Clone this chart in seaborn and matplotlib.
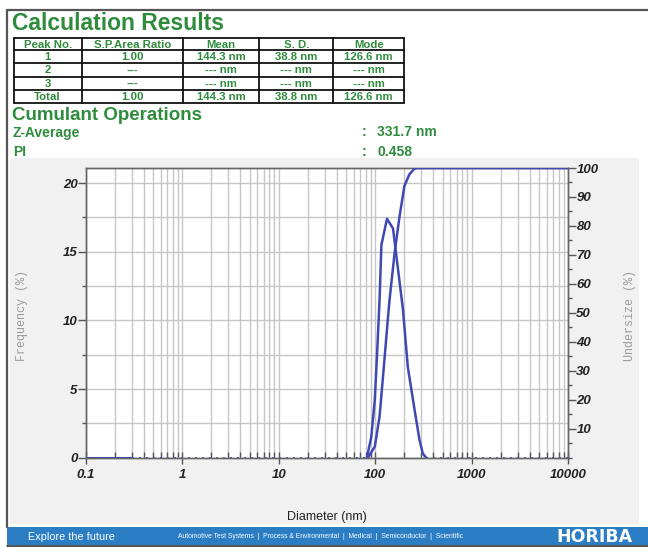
import matplotlib
matplotlib.use("Agg")
import matplotlib.pyplot as plt
import seaborn as sns
import numpy as np
import pandas as pd
from matplotlib.lines import Line2D
from matplotlib.patches import Rectangle
from matplotlib.ticker import LogLocator, NullFormatter, FixedLocator, FixedFormatter, MultipleLocator

# ---------------- data ----------------
freq_diam = [82, 91, 99, 105, 111, 116, 132.5, 153, 194, 218, 256, 288, 312, 338]
freq_pct = [0, 1.5, 4.2, 7.8, 11.5, 15.5, 17.4, 16.7, 10.8, 6.6, 3.5, 1.3, 0.3, 0]

cum_diam = [84, 99, 111, 123, 136, 141, 159, 179, 201, 226, 256, 275, 10000]
cum_pct = [0, 3.8, 14.2, 31.5, 48.8, 54.6, 70.7, 83.4, 93.8, 97.8, 99.8, 100, 100]

base_solid_diam = [0.1, 0.3]
base_dot_left_diam = [0.3, 82]
base_dot_right_diam = [338, 10000]
base_zero = [0, 0]

x_ticks = [0.1, 1, 10, 100, 1000, 10000]
x_tick_labels = ["0.1", "1", "10", "100", "1000", "10000"]
left_ticks = [0, 5, 10, 15, 20]
right_ticks = [10, 20, 30, 40, 50, 60, 70, 80, 90, 100]

table_header = ["Peak No.", "S.P.Area Ratio", "Mean", "S. D.", "Mode"]
table_rows = [
    ["1", "1.00", "144.3 nm", "38.8 nm", "126.6 nm"],
    ["2", "---", "--- nm", "--- nm", "--- nm"],
    ["3", "---", "--- nm", "--- nm", "--- nm"],
    ["Total", "1.00", "144.3 nm", "38.8 nm", "126.6 nm"],
]
cumulant_names = ["Z-Average", "PI"]
cumulant_values = ["331.7 nm", "0.458"]

# ---------------- style ----------------
sns.set_theme(style="white")
plt.rcParams["font.family"] = ["Liberation Sans", "DejaVu Sans"]

W, H = 648, 548
fig = plt.figure(figsize=(W / 100, H / 100), dpi=100, facecolor="white")

def fx(x):
    return x / W

def fy(y):
    return 1 - y / H

GREEN = "#2f8c3c"
BLUE = "#4048b4"
FOOT = "#2b7dc4"

# frame lines
fig.add_artist(Line2D([fx(7), fx(7)], [fy(10), fy(527)], color="#555555", lw=1.6, transform=fig.transFigure))
fig.add_artist(Line2D([fx(7), fx(648)], [fy(10), fy(10)], color="#555555", lw=1.6, transform=fig.transFigure))

# grey chart panel
fig.add_artist(Rectangle((fx(10), fy(524)), fx(639) - fx(10), fy(158) - fy(524),
                         facecolor="#f1f1f1", edgecolor="none", transform=fig.transFigure, zorder=-5))

# footer
fig.add_artist(Rectangle((fx(7), fy(545)), fx(648) - fx(7), fy(527) - fy(545),
                         facecolor=FOOT, edgecolor="none", transform=fig.transFigure, zorder=-4))
fig.add_artist(Line2D([fx(7), fx(648)], [fy(545.5), fy(545.5)], color="#333333", lw=1.2, transform=fig.transFigure))
fig.text(fx(28), fy(536.5), "Explore the future", color="white", fontsize=7.8, va="center", ha="left")
fig.text(fx(178), fy(536.5),
         "Automotive Test Systems  |  Process & Environmental  |  Medical  |  Semiconductor  |  Scientific",
         color="white", fontsize=4.9, va="center", ha="left")
fig.text(fx(632), fy(536.5), "HORIBA", color="white", fontsize=12.5, fontweight="heavy",
         va="center", ha="right", family=["DejaVu Sans"])

# header texts
fig.text(fx(12), fy(23), "Calculation Results", color=GREEN, fontsize=16.5, fontweight="bold", va="center", ha="left")
fig.text(fx(12), fy(115), "Cumulant Operations", color=GREEN, fontsize=13.5, fontweight="bold", va="center", ha="left")
for i, (name, val) in enumerate(zip(cumulant_names, cumulant_values)):
    yy = 132.5 + i * 19
    fig.text(fx(13), fy(yy), name, color=GREEN, fontsize=10, fontweight="bold", va="center", ha="left")
    fig.text(fx(362), fy(yy), ":", color=GREEN, fontsize=10, fontweight="bold", va="center", ha="left")
    fig.text(fx(377), fy(yy), val, color=GREEN, fontsize=10, fontweight="bold", va="center", ha="left")

# table
col_edges = [13.5, 81.7, 182.7, 259.3, 333.3, 404.3]
row_edges = [38.3, 50, 63.3, 76.7, 90, 103.3]
for xe in col_edges:
    fig.add_artist(Line2D([fx(xe), fx(xe)], [fy(row_edges[0]), fy(row_edges[-1])],
                          color="#111111", lw=1.3, transform=fig.transFigure))
for ye in row_edges:
    fig.add_artist(Line2D([fx(col_edges[0]), fx(col_edges[-1])], [fy(ye), fy(ye)],
                          color="#111111", lw=1.3, transform=fig.transFigure))
all_rows = [table_header] + table_rows
for r, row in enumerate(all_rows):
    yc = (row_edges[r] + row_edges[r + 1]) / 2
    for c, txt in enumerate(row):
        xc = (col_edges[c] + col_edges[c + 1]) / 2
        fig.text(fx(xc), fy(yc + 0.5), txt, color=GREEN, fontsize=8.2, fontweight="bold",
                 va="center", ha="center")

# ---------------- chart ----------------
ax_l, ax_r, ax_t, ax_b = 86, 568, 168, 457.7
ax = fig.add_axes([fx(ax_l), fy(ax_b), fx(ax_r) - fx(ax_l), fy(ax_t) - fy(ax_b)])
ax.set_facecolor("white")
ax2 = ax.twinx()

freq_df = pd.DataFrame({"diameter": freq_diam, "frequency": freq_pct})
cum_df = pd.DataFrame({"diameter": cum_diam, "undersize": cum_pct})

sns.lineplot(data=freq_df, x="diameter", y="frequency", ax=ax, color=BLUE, lw=1.8,
             estimator=None, sort=False, zorder=5)
sns.lineplot(x=base_solid_diam, y=base_zero, ax=ax, color=BLUE, lw=2.2, estimator=None, zorder=5)
sns.lineplot(x=base_dot_left_diam, y=base_zero, ax=ax, color=BLUE, lw=1.2, estimator=None,
             linestyle=(0, (1.2, 3)), zorder=5)
sns.lineplot(x=base_dot_right_diam, y=base_zero, ax=ax, color=BLUE, lw=1.2, estimator=None,
             linestyle=(0, (1.2, 3)), zorder=5)
sns.lineplot(data=cum_df, x="diameter", y="undersize", ax=ax2, color=BLUE, lw=1.8,
             estimator=None, sort=False, zorder=5)

ax.set_xscale("log")
ax.set_xlim(0.1, 10000)
ax.set_ylim(0, 21.1)
ax2.set_ylim(0, 100)

ax.xaxis.set_major_locator(FixedLocator(x_ticks))
ax.xaxis.set_major_formatter(FixedFormatter(x_tick_labels))
ax.xaxis.set_minor_locator(LogLocator(base=10, subs=list(range(2, 10))))
ax.xaxis.set_minor_formatter(NullFormatter())

ax.yaxis.set_major_locator(FixedLocator(left_ticks))
ax.yaxis.set_minor_locator(MultipleLocator(2.5))
ax2.yaxis.set_major_locator(FixedLocator(right_ticks))
ax2.yaxis.set_minor_locator(MultipleLocator(5))

ax.grid(True, which="both", axis="both", color="#c6c6c6", lw=1.0)
ax.set_axisbelow(True)

for lab in ax.get_xticklabels() + ax.get_yticklabels() + ax2.get_yticklabels():
    lab.set_fontweight("bold")
    lab.set_fontstyle("italic")
    lab.set_fontsize(9.5)
    lab.set_color("#222222")

ax.tick_params(axis="x", which="major", direction="inout", length=8, width=1, color="#555555", pad=4, bottom=True)
ax.tick_params(axis="x", which="minor", direction="in", length=4, width=1, color="#555555", bottom=True)
ax.tick_params(axis="y", which="major", direction="out", length=6, width=1, color="#555555", pad=0, left=True)
ax.tick_params(axis="y", which="minor", direction="out", length=3, width=1, color="#555555", left=True)
ax2.tick_params(axis="y", which="major", direction="out", length=6, width=1, color="#555555", pad=0, right=True)
ax2.tick_params(axis="y", which="minor", direction="out", length=3, width=1, color="#555555", right=True)

for a in (ax, ax2):
    for s in a.spines.values():
        s.set_color("#666666")
        s.set_linewidth(1.0)
        s.set_visible(True)

ax.set_xlabel("Diameter (nm)", fontsize=9, color="#222222", va="center")
ax.xaxis.set_label_coords(0.5, (ax_b - 517) / (ax_b - ax_t))
ax.set_ylabel("Frequency (%)", fontsize=8.5, color="#9a9a9a", family=["Liberation Mono", "DejaVu Sans Mono"],
              va="center")
ax.yaxis.set_label_coords((22 - ax_l) / (ax_r - ax_l), 0.49)
ax2.set_ylabel("Undersize (%)", fontsize=8.5, color="#9a9a9a", family=["Liberation Mono", "DejaVu Sans Mono"],
               rotation=90, va="center")
ax2.yaxis.set_label_coords((630 - ax_l) / (ax_r - ax_l), 0.49)

fig.savefig("out.png", dpi=100, facecolor="white")
